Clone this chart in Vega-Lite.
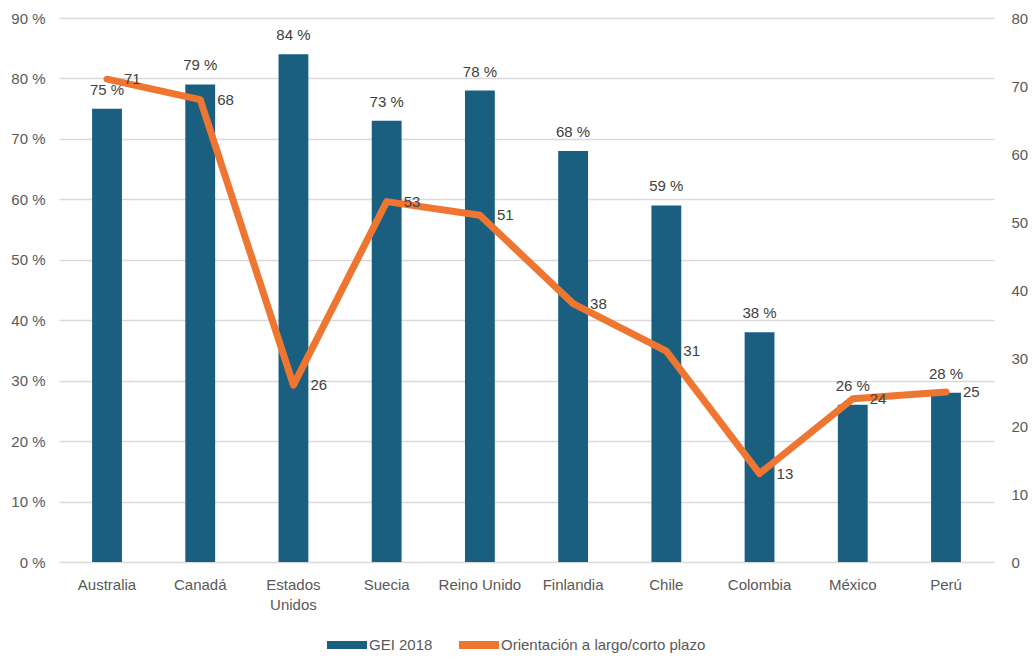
{
  "$schema": "https://vega.github.io/schema/vega-lite/v6.json",
  "width": 935,
  "height": 544,
  "padding": {"left": 10, "top": 11, "right": 0, "bottom": 0},
  "background": "white",
  "config": {
    "font": "Liberation Sans",
    "view": {"stroke": null},
    "axis": {"labelColor": "#595959", "labelFontSize": 15, "titleColor": "#595959"}
  },
  "data": {
    "values": [
      {"pais": "Australia", "gei": 75, "orient": 71},
      {"pais": "Canadá", "gei": 79, "orient": 68},
      {"pais": "Estados Unidos", "gei": 84, "orient": 26},
      {"pais": "Suecia", "gei": 73, "orient": 53},
      {"pais": "Reino Unido", "gei": 78, "orient": 51},
      {"pais": "Finlandia", "gei": 68, "orient": 38},
      {"pais": "Chile", "gei": 59, "orient": 31},
      {"pais": "Colombia", "gei": 38, "orient": 13},
      {"pais": "México", "gei": 26, "orient": 24},
      {"pais": "Perú", "gei": 28, "orient": 25}
    ]
  },
  "encoding": {
    "x": {
      "field": "pais",
      "type": "nominal",
      "sort": null,
      "scale": {"paddingInner": 0.68, "paddingOuter": 0.355},
      "axis": {
        "title": null,
        "labelAngle": 0,
        "ticks": false,
        "domain": false,
        "labelPadding": 15,
        "labelLineHeight": 20,
        "labelExpr": "datum.label == 'Estados Unidos' ? ['Estados', 'Unidos'] : datum.label"
      }
    }
  },
  "layer": [
    {
      "encoding": {
        "y": {
          "field": "gei",
          "type": "quantitative",
          "scale": {"domain": [0, 90], "nice": false},
          "axis": {
            "title": null,
            "values": [0, 10, 20, 30, 40, 50, 60, 70, 80, 90],
            "labelExpr": "datum.value + ' %'",
            "domain": false,
            "ticks": false,
            "labelPadding": 14,
            "gridColor": "#d9d9d9",
            "gridWidth": 1.3
          }
        }
      },
      "layer": [
        {
          "mark": {"type": "bar", "color": "#1a5e80"},
          "encoding": {
            "color": {
              "datum": "GEI 2018",
              "type": "nominal",
              "scale": {"domain": ["GEI 2018", "Orientación a largo/corto plazo"], "range": ["#1a5e80", "#ee7631"]},
              "legend": {
                "title": null,
                "orient": "none",
                "direction": "horizontal",
                "legendX": 268,
                "legendY": 607,
                "symbolType": "M-1,-0.2H1V0.2H-1Z",
                "symbolSize": 1600,
                "symbolStrokeWidth": 0,
                "labelFontSize": 15,
                "labelColor": "#595959",
                "labelOffset": 2,
                "labelLimit": 400,
                "columnPadding": 26
              }
            }
          }
        },
        {
          "mark": {"type": "text", "baseline": "middle", "dy": -19, "fontSize": 15, "color": "#404040", "text": {"expr": "datum.gei + ' %'"}},
          "encoding": {}
        }
      ]
    },
    {
      "encoding": {
        "y": {
          "field": "orient",
          "type": "quantitative",
          "scale": {"domain": [0, 80], "nice": false},
          "axis": {
            "title": null,
            "orient": "right",
            "values": [0, 10, 20, 30, 40, 50, 60, 70, 80],
            "grid": false,
            "domain": false,
            "ticks": false,
            "labelPadding": 17
          }
        }
      },
      "layer": [
        {
          "mark": {"type": "line", "strokeWidth": 7, "strokeCap": "round", "strokeJoin": "round"},
          "encoding": {
            "color": {"datum": "Orientación a largo/corto plazo", "type": "nominal"}
          }
        },
        {
          "mark": {"type": "text", "align": "left", "baseline": "middle", "dx": 17, "fontSize": 15, "color": "#404040"},
          "encoding": {"text": {"field": "orient", "type": "quantitative"}}
        }
      ]
    }
  ],
  "resolve": {"scale": {"y": "independent"}}
}
